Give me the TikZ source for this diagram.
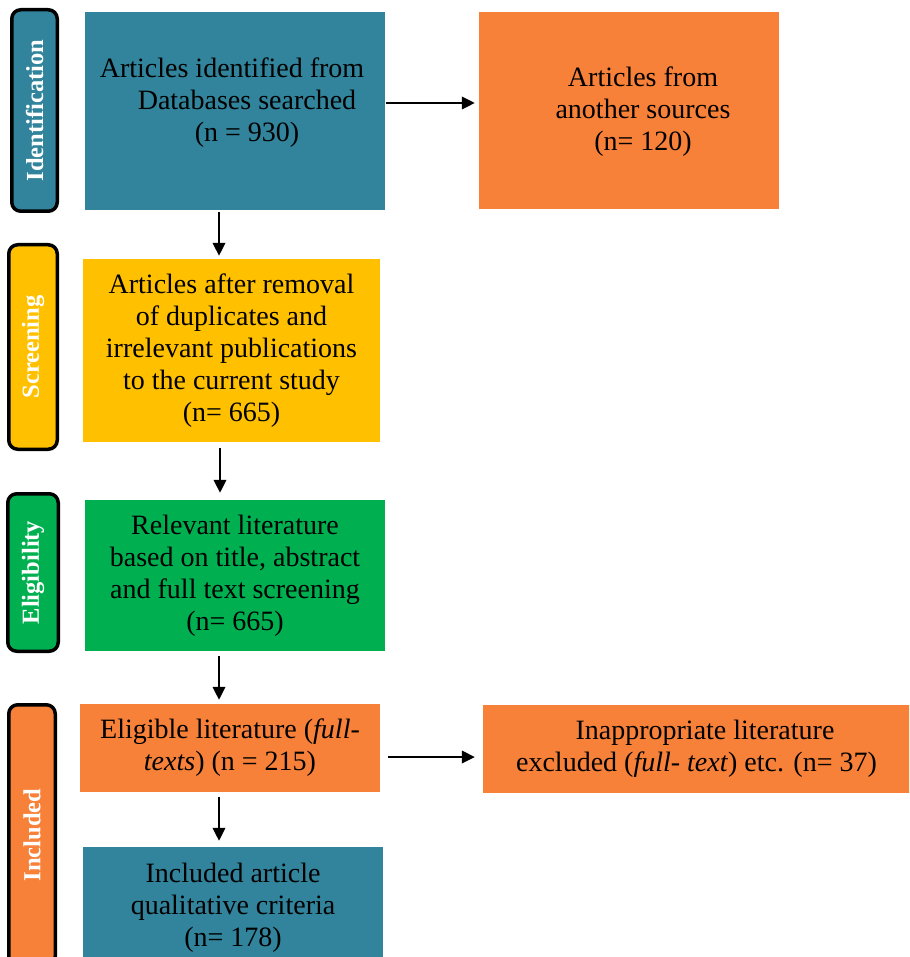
\documentclass[tikz,border=0pt]{standalone}
\usepackage{fontspec}
\setmainfont{Liberation Serif}
\usetikzlibrary{arrows.meta}
\definecolor{tealc}{RGB}{49,132,155}
\definecolor{orangec}{RGB}{248,129,58}
\definecolor{yellowc}{RGB}{255,192,0}
\definecolor{greenc}{RGB}{0,176,80}
\begin{document}
\begin{tikzpicture}[x=1pt,y=-1pt,
  box/.style={rectangle, inner sep=0pt, draw=none, align=center, font=\fontsize{28}{32}\selectfont},
  txt/.style={inner sep=0pt, align=center, font=\fontsize{28}{32}\selectfont},
  bar/.style={rectangle, rounded corners=9pt, draw=black, line width=3.5pt, inner sep=0pt},
  barlbl/.style={inner sep=0pt, text=white, font=\bfseries\fontsize{24.5}{28}\selectfont, rotate=90},
  arr/.style={-{Triangle[length=13pt,width=12.5pt]}, line width=1.8pt}
]
\useasboundingbox (0,0) rectangle (909,957);
\clip (0,0) rectangle (909,957);

% stage bars
\node[bar, fill=tealc, minimum width=45.5pt, minimum height=201.5pt] (s1) at (34.5,110.5) {};
\node[barlbl] (s1t) at (s1.center) {Identification};
\node[bar, fill=yellowc, minimum width=48.5pt, minimum height=204.5pt] (s2) at (33,347) {};
\node[barlbl] (s2t) at (s2.center) {Screening};
\node[bar, fill=greenc, minimum width=50.5pt, minimum height=157.5pt] (s3) at (33,572.5) {};
\node[barlbl] (s3t) at (s3.center) {Eligibility};
\node[bar, fill=orangec, minimum width=46.5pt, minimum height=260.5pt] (s4) at (32,835) {};
\node[barlbl] (s4t) at (s4.center) {Included};

% boxes
\node[box, fill=tealc, minimum width=300pt, minimum height=198pt] (b1) at (235,111) {};
\node[txt] (t1) at (247,103) {Articles identified from\hspace*{30pt}\\Databases searched\\(n = 930)};
\node[box, fill=orangec, minimum width=300pt, minimum height=197pt] (b2) at (629,110.5) {};
\node[txt] (t2) at (643,112) {Articles from\\another sources\\(n= 120)};
\node[box, fill=yellowc, minimum width=297pt, minimum height=183pt] (b3) at (231.5,350.5)
  {Articles after removal\\of duplicates and\\irrelevant publications\\to the current study\\(n= 665)};
\node[box, fill=greenc, minimum width=300pt, minimum height=151pt] (b4) at (235,575.5)
  {Relevant literature\\based on title, abstract\\and full text screening\\(n= 665)};
\node[box, fill=orangec, minimum width=300pt, minimum height=88pt] (b5) at (230,748)
  {Eligible literature (\textit{full-}\\\textit{texts}) (n = 215)};
\node[box, fill=orangec, minimum width=427pt, minimum height=88pt] (b6) at (696.5,749)
  {\hspace*{17pt}Inappropriate literature\\excluded (\textit{full- text}) etc. (n= 37)};
\node[box, fill=tealc, minimum width=300pt, minimum height=121pt] (b7) at (233,907.5)
  {Included article\\qualitative criteria\\(n= 178)};

% arrow guide coordinates
\coordinate (ax1) at (219,0);
\coordinate (ax2) at (220,0);
\coordinate (ay1) at (0,103);
\coordinate (ay2) at (0,757);

% connectors
\draw[arr, shorten <=2pt, shorten >=3pt] (b1.south -| ax1) -- (b3.north -| ax1);
\draw[arr, shorten <=1pt, shorten >=4pt] (b1.east |- ay1) -- (b2.west |- ay1);
\draw[arr, shorten <=6pt, shorten >=7pt] (b3.south -| ax2) -- (b4.north -| ax2);
\draw[arr, shorten <=5pt, shorten >=4pt] (b4.south -| ax1) -- (b5.north -| ax1);
\draw[arr, shorten <=8pt, shorten >=8pt] (b5.east |- ay2) -- (b6.west |- ay2);
\draw[arr, shorten <=5pt, shorten >=6pt] (b5.south -| ax1) -- (b7.north -| ax1);
\end{tikzpicture}
\end{document}
